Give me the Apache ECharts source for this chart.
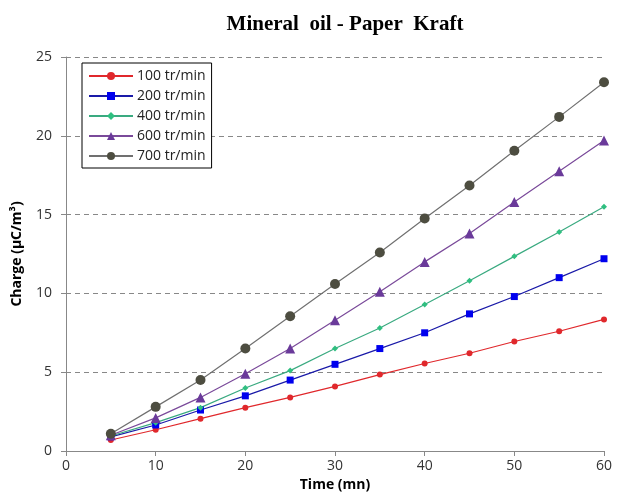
<!DOCTYPE html>
<html>
<head>
<meta charset="utf-8">
<script src="https://cdn.jsdelivr.net/npm/echarts@6/dist/echarts.min.js"></script>
<style>
  html, body { margin: 0; padding: 0; background: #fff; }
  #chart { width: 618px; height: 502px; }
</style>
</head>
<body>
<div id="chart"></div>
<script>
// time in minutes
const times = [5, 10, 15, 20, 25, 30, 35, 40, 45, 50, 55, 60];

// charge values (uC/m3)
const rpm100 = [0.7, 1.35, 2.05, 2.75, 3.4, 4.1, 4.85, 5.55, 6.2, 6.95, 7.6, 8.35];
const rpm200 = [0.9, 1.65, 2.6, 3.5, 4.5, 5.5, 6.5, 7.5, 8.7, 9.8, 11.0, 12.2];
const rpm400 = [0.95, 1.8, 2.75, 4.0, 5.1, 6.5, 7.8, 9.3, 10.8, 12.35, 13.9, 15.5];
const rpm600 = [1.0, 2.1, 3.4, 4.9, 6.5, 8.3, 10.1, 12.0, 13.8, 15.8, 17.75, 19.7];
const rpm700 = [1.1, 2.8, 4.5, 6.5, 8.55, 10.6, 12.6, 14.75, 16.85, 19.05, 21.2, 23.4];

const seriesNames = ["100 tr/min", "200 tr/min", "400 tr/min", "600 tr/min", "700 tr/min"];

const chart = echarts.init(document.getElementById("chart"));

const pair = (arr) => times.map((t, i) => [t, arr[i]]);

const mk = (name, data, lineColor, markColor, symbol, size) => ({
  name,
  type: "line",
  data: pair(data),
  symbol,
  symbolSize: size,
  lineStyle: { color: lineColor, width: 1.2 },
  itemStyle: { color: markColor },
  emphasis: { disabled: true },
  animation: false,
});

chart.setOption({
  animation: false,
  title: {
    text: "Mineral  oil - Paper  Kraft",
    left: 340,
    top: 9,
    textAlign: "center",
    textStyle: { fontFamily: "Liberation Serif", fontSize: 21, fontWeight: "bold", color: "#000" },
  },
  legend: {
    orient: "vertical",
    left: 82,
    top: 63,
    padding: [6, 6, 5, 6],
    itemGap: 6,
    itemWidth: 44,
    itemHeight: 10,
    borderColor: "#000",
    borderWidth: 1,
    backgroundColor: "#fff",
    textStyle: { fontFamily: "Open Sans", fontSize: 14, color: "#222", padding: [0, 0, 0, -1] },
    data: seriesNames,
  },
  grid: { left: 66, right: 14, top: 57, bottom: 51 },
  xAxis: {
    type: "value",
    min: 0,
    max: 60,
    interval: 10,
    name: "Time (mn)",
    nameLocation: "middle",
    nameGap: 27,
    nameTextStyle: { fontFamily: "Open Sans", fontSize: 14, fontWeight: "bold", color: "#000" },
    axisLine: { lineStyle: { color: "#888" } },
    axisTick: { show: true, length: 5, lineStyle: { color: "#888" } },
    axisLabel: { fontFamily: "Open Sans", fontSize: 14, color: "#333", margin: 8 },
    splitLine: { show: false },
  },
  yAxis: {
    type: "value",
    min: 0,
    max: 25,
    interval: 5,
    name: "Charge (µC/m³)",
    nameLocation: "middle",
    nameGap: 42,
    nameRotate: 90,
    nameTextStyle: { fontFamily: "Open Sans", fontSize: 14, fontWeight: "bold", color: "#000" },
    axisLine: { show: true, lineStyle: { color: "#888" } },
    axisTick: { show: true, length: 5, lineStyle: { color: "#888" } },
    axisLabel: { fontFamily: "Open Sans", fontSize: 14, color: "#333", margin: 14 },
    splitLine: { show: true, lineStyle: { color: "#888", type: [5, 4], width: 1 } },
  },
  series: [
    mk(seriesNames[0], rpm100, "#e0282c", "#e0282c", "circle", 6),
    mk(seriesNames[1], rpm200, "#1a1aa8", "#0000ee", "rect", 7),
    mk(seriesNames[2], rpm400, "#3aaa80", "#2fbf80", "diamond", 6),
    mk(seriesNames[3], rpm600, "#7a4a9a", "#6a3a9a", "triangle", 10),
    mk(seriesNames[4], rpm700, "#707070", "#4d4d40", "circle", 10),
  ],
});
</script>
</body>
</html>
